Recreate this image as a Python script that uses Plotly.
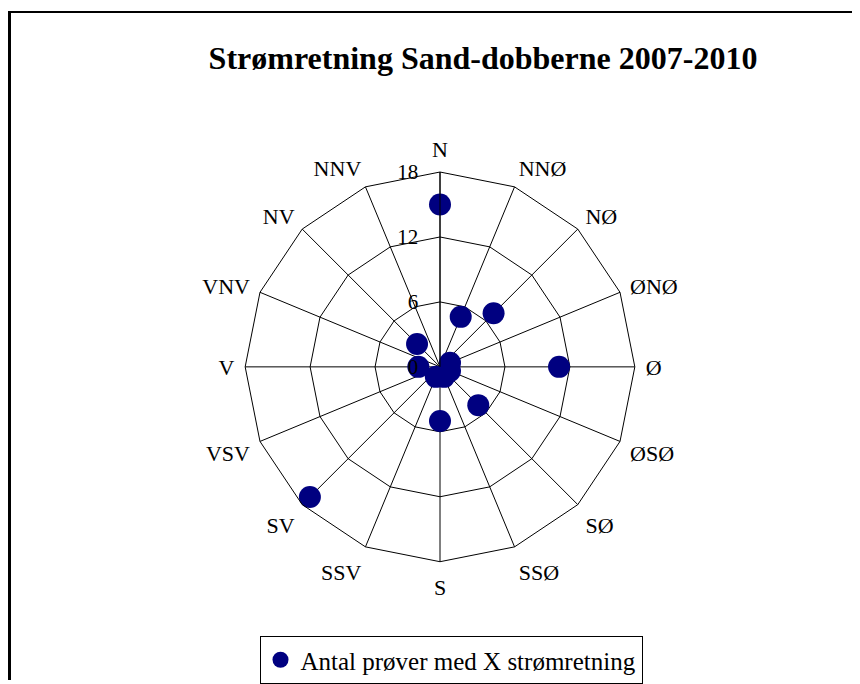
import plotly.graph_objects as go

directions = ["N", "NNØ", "NØ", "ØNØ", "Ø", "ØSØ", "SØ", "SSØ",
              "S", "SSV", "SV", "VSV", "V", "VNV", "NV", "NNV"]
counts = [15, 5, 7, 1, 11, 1, 5, 1, 5, 1, 17, 0, 2, 0, 3, 0]
radial_ticks = [0, 6, 12, 18]
series_name = "Antal prøver med X strømretning"
title_text = "Strømretning Sand-dobberne 2007-2010"

# page body has an 8px margin, so the figure is drawn 8px in from the window edge
OFF = 8
W, H = 860 - OFF, 684 - OFF
cx, cy, R = 440 - OFF, 369 - OFF, 196

FONT = "Liberation Serif, Times New Roman, serif"

fig = go.Figure()
fig.add_trace(go.Scatterpolar(
    r=counts, theta=directions, mode="markers", name=series_name,
    marker=dict(color="#000080", size=22),
    showlegend=True,
))

fig.update_layout(
    width=W, height=H,
    margin=dict(l=0, r=0, t=0, b=0),
    paper_bgcolor="white", plot_bgcolor="white",
    font=dict(family=FONT, color="black", size=21),
    title=dict(text="<b>" + title_text + "</b>", x=(483 - OFF) / W, xanchor="center",
               y=1 - (58 - OFF) / H, yanchor="middle",
               font=dict(size=32, family=FONT, color="black")),
    polar=dict(
        domain=dict(x=[(cx - R) / W, (cx + R) / W], y=[1 - (cy + R) / H, 1 - (cy - R) / H]),
        bgcolor="white",
        gridshape="linear",
        angularaxis=dict(
            type="category", categoryarray=directions, categoryorder="array",
            rotation=90, direction="clockwise",
            showline=True, linecolor="black", linewidth=1,
            gridcolor="black", gridwidth=1,
            ticks="outside", ticklen=6, tickcolor="rgba(0,0,0,0)",
            tickfont=dict(size=22, family=FONT),
        ),
        radialaxis=dict(
            range=[0, 18], tickvals=radial_ticks, ticktext=[str(v) for v in radial_ticks],
            angle=90, tickangle=90, side="counterclockwise",
            showline=True, linecolor="black", linewidth=1,
            gridcolor="black", gridwidth=1,
            ticks="outside", ticklen=14, tickcolor="rgba(0,0,0,0)",
            tickfont=dict(size=21, family=FONT),
        ),
    ),
    legend=dict(
        x=(451 - OFF) / W, xanchor="center", y=1 - (664 - OFF) / H, yanchor="middle",
        bordercolor="black", borderwidth=1, bgcolor="white",
        font=dict(size=25, family=FONT),
        itemsizing="trace", itemwidth=30,
    ),
    shapes=[
        dict(type="line", xref="paper", yref="paper", x0=1.5 / W, x1=1.5 / W, y0=0, y1=1 - 4 / H,
             line=dict(color="black", width=3)),
        dict(type="line", xref="paper", yref="paper", x0=0, x1=1, y0=1 - 4 / H, y1=1 - 4 / H,
             line=dict(color="black", width=2)),
    ],
)

fig.write_html("out.html")
